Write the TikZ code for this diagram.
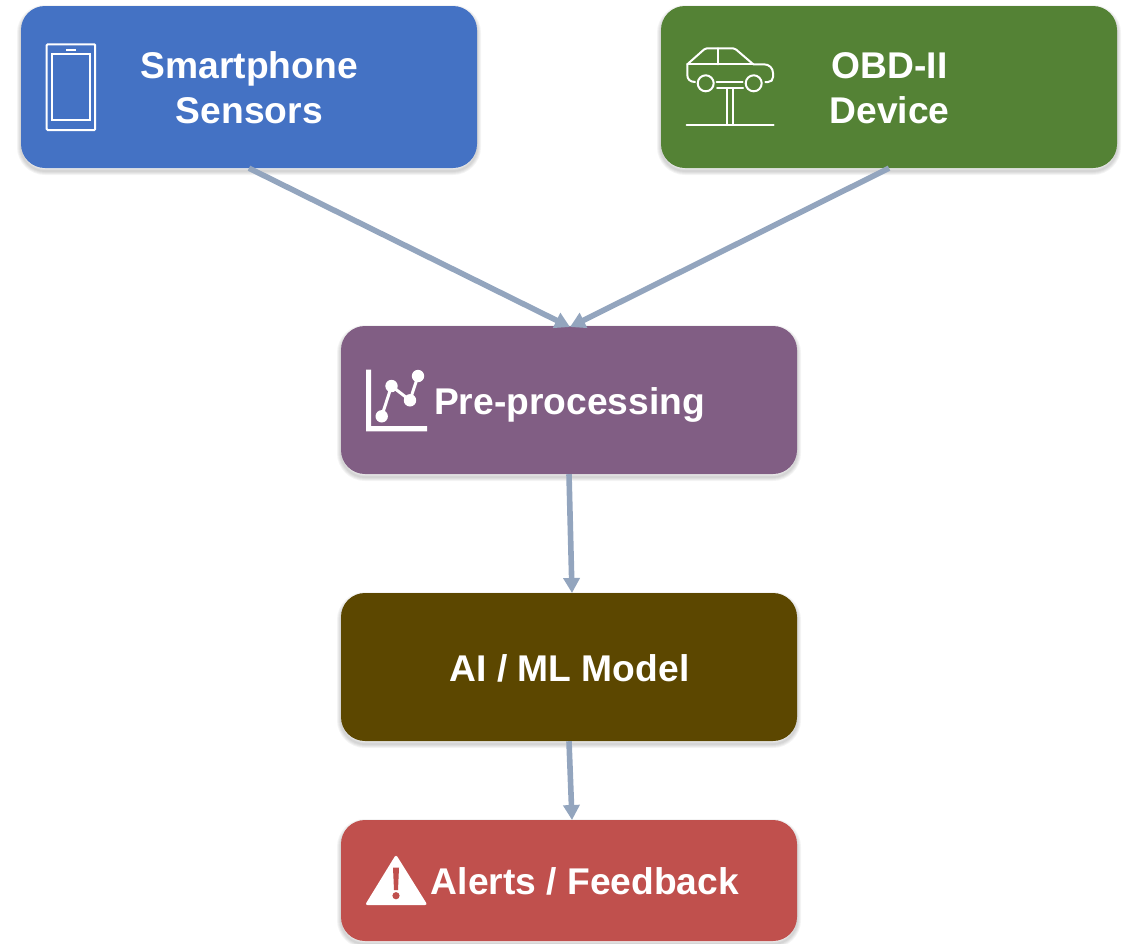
\documentclass[tikz,border=0pt]{standalone}
\usepackage{fontspec}
\setmainfont{Liberation Sans}
\usetikzlibrary{arrows.meta}
\definecolor{cblue}{HTML}{4472C4}
\definecolor{cgreen}{HTML}{548235}
\definecolor{cpurple}{HTML}{815E84}
\definecolor{cbrown}{HTML}{5C4700}
\definecolor{cred}{HTML}{C0504D}
\definecolor{carrow}{HTML}{93A5BE}
\tikzset{
  softlayer/.style={preaction={draw=black,fill=none,line width=#1,draw opacity=.045,transform canvas={yshift=-3pt}}},
  flowbox/.style={rounded corners=24pt,minimum width=456pt,inner sep=0pt,align=center,text=white,
    softlayer=8pt,softlayer=6pt,softlayer=4pt,softlayer=2pt},
  boxlabel/.style={inner sep=0pt,anchor=base,text=white,font=\fontsize{37.2}{45}\selectfont\bfseries},
  flowarrow/.style={draw=carrow,line width=5.6pt,-{Triangle[width=16pt,length=15pt]}},
  iconline/.style={draw=white,line width=2pt,fill=none},
  iconfill/.style={fill=white,draw=none}
}
\begin{document}
\begin{tikzpicture}[x=1pt,y=-1pt]
\useasboundingbox (0,0) rectangle (1124,943);
% boxes
\node[flowbox,fill=cblue,minimum height=162pt] (sensors) at (249,87) {};
\node[flowbox,fill=cgreen,minimum height=162pt] (obd) at (889,87) {};
\node[flowbox,fill=cpurple,minimum height=148pt] (pre) at (569,400) {};
\node[flowbox,fill=cbrown,minimum height=148pt] (model) at (569,667) {};
\node[flowbox,fill=cred,minimum height=121pt] (alerts) at (569,880.5) {};
% labels
\node[boxlabel] (sensorsa) at (249.3,78) {Smartphone};
\node[boxlabel] (sensorsb) at (249.3,123) {Sensors};
\node[boxlabel] (obda) at (889.5,78) {OBD-II};
\node[boxlabel] (obdb) at (889.5,123) {Device};
\node[boxlabel] (pretext) at (569.5,414) {Pre-processing};
\node[boxlabel] (modeltext) at (569.5,681) {AI / ML Model};
\node[boxlabel] (alertstext) at (585,894) {Alerts / Feedback};
% connector ends
\coordinate (premerge) at (570,327);
\coordinate (modeltop) at (572,593);
\coordinate (alertstop) at (572,820);
\draw[flowarrow] (sensors.south) -- (premerge);
\draw[flowarrow] (obd.south) -- (premerge);
\draw[flowarrow] (pre.south) -- (modeltop);
\draw[flowarrow] (model.south) -- (alertstop);
% phone icon
\draw[iconline,rounded corners=1pt] (46.7,44.3) rectangle (95.2,130);
\draw[iconline] (52.3,54) rectangle (89.5,119.5);
\draw[iconline] (66,49.5) -- (76,49.5);
% car lift icon
\begin{scope}[iconline,line cap=round,line join=round]
  \draw (695,82) .. controls (690,82) and (687.3,79) .. (687.3,75) -- (687.3,64.3) -- (704,49.5)
    .. controls (705,48.6) and (706,48.3) .. (707,48.3) -- (733,48.3)
    .. controls (734,48.3) and (735,48.6) .. (736,49.5) -- (753.3,64.3) -- (764,64.3)
    .. controls (769,64.3) and (773,68) .. (773,73) -- (773,77)
    .. controls (773,80) and (771,82) .. (768,82) -- (765.3,82);
  \draw (687.3,64.3) -- (753.3,64.3);
  \draw (718.3,48.3) -- (718.3,64.3);
  \draw (705.7,83.3) circle[radius=8];
  \draw (753.7,83.3) circle[radius=8];
  \draw (716.7,82) -- (742.7,82);
  \draw (717,88.3) -- (743,88.3);
  \draw (726.7,88.3) -- (726.7,125);
  \draw (732.7,88.3) -- (732.7,125);
  \draw (686.7,125) -- (773.5,125);
\end{scope}
% chart icon
\fill[iconfill] (366,369.5) -- (371,369.5) -- (371,426) -- (427,426) -- (427,431.3) -- (366,431.3) -- cycle;
\draw[draw=white,line width=3pt] (381.7,416.3) -- (391.5,386) -- (410,400.3) -- (418,376);
\fill[iconfill] (381.7,416.3) circle[radius=6.2];
\fill[iconfill] (391.5,386) circle[radius=6.2];
\fill[iconfill] (410,400.3) circle[radius=6.2];
\fill[iconfill] (418,376) circle[radius=6.2];
% warning icon
\fill[iconfill,rounded corners=2.5pt] (396,854.5) -- (427.5,905) -- (365,905) -- cycle;
\fill[cred] (393,867.7) -- (399,867.7) -- (398,890) -- (394,890) -- cycle;
\fill[cred] (396,895.7) circle[radius=3.6];
\end{tikzpicture}
\end{document}
